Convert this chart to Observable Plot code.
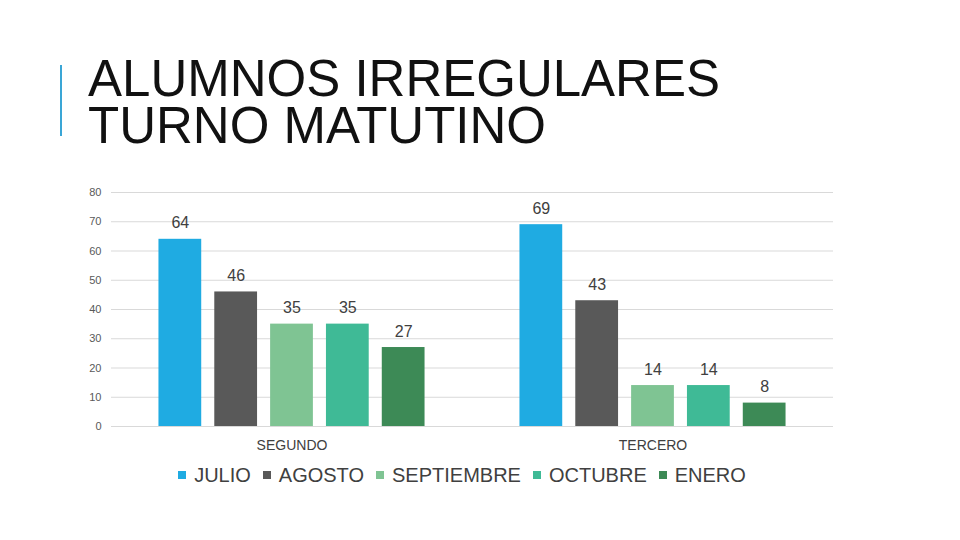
<!DOCTYPE html>
<html><head><meta charset="utf-8">
<script src="https://cdn.jsdelivr.net/npm/d3@7"></script>
<script src="https://cdn.jsdelivr.net/npm/@observablehq/plot@0.6"></script>
<style>
body{margin:0;width:960px;height:540px;background:#fff;position:relative;overflow:hidden;font-family:"Liberation Sans",Arial,sans-serif;}
#bar{position:absolute;left:60px;top:65px;width:2px;height:71px;background:#3aa6d6;}
.tl{position:absolute;left:88px;font-size:51px;line-height:47px;height:47px;overflow:visible;color:#111;white-space:nowrap;}
#chart{position:absolute;left:0;top:170px;}
#legend{position:absolute;left:-18px;top:463px;width:960px;display:flex;justify-content:center;font-size:20px;line-height:24px;color:#404040;}
#legend .it{display:flex;align-items:center;margin:0 6px;}
#legend .sw{width:8px;height:8px;margin-right:8px;}
</style></head>
<body>
<div id="bar"></div>
<div class="tl" style="top:55px">ALUMNOS IRREGULARES</div>
<div class="tl" style="top:102px">TURNO MATUTINO</div>
<div id="chart"></div>
<div id="legend"></div>
<script>
const groups = ["SEGUNDO", "TERCERO"];
const months = ["JULIO", "AGOSTO", "SEPTIEMBRE", "OCTUBRE", "ENERO"];
const segundo = [64, 46, 35, 35, 27];
const tercero = [69, 43, 14, 14, 8];
const colors = ["#1fabe2", "#595959", "#7fc493", "#3fba96", "#3d8a56"];
const yTicks = [0, 10, 20, 30, 40, 50, 60, 70, 80];

const rows = [];
[segundo, tercero].forEach((vals, gi) => vals.forEach((v, mi) => rows.push({group: groups[gi], month: months[mi], value: v})));

const plot = Plot.plot({
  width: 960, height: 290,
  marginLeft: 110, marginRight: 127, marginTop: 22, marginBottom: 34,
  style: {fontFamily: '"Liberation Sans", Arial, sans-serif', background: "transparent"},
  fx: {domain: groups, padding: 0, label: null},
  x: {domain: months, paddingInner: 0.234, paddingOuter: 0.85, round: false, axis: null},
  y: {domain: [0, 80], ticks: yTicks, label: null},
  color: {domain: months, range: colors},
  marks: [
    Plot.ruleY(yTicks, {stroke: "#d9d9d9", strokeWidth: 1}),
    Plot.axisY({ticks: yTicks, tickSize: 0, tickPadding: 10, fontSize: 11, color: "#595959", label: null}),
    Plot.axisFx({anchor: "bottom", tickSize: 0, tickPadding: 14, fontSize: 14, color: "#404040", label: null}),
    Plot.barY(rows, {fx: "group", x: "month", y: "value", fill: "month"}),
    Plot.text(rows, {fx: "group", x: "month", y: "value", text: d => String(d.value), dy: -16, fontSize: 16, fill: "#404040"})
  ]
});
document.getElementById("chart").appendChild(plot);

const lg = document.getElementById("legend");
months.forEach((m, i) => {
  const it = document.createElement("div"); it.className = "it";
  const sw = document.createElement("div"); sw.className = "sw"; sw.style.background = colors[i];
  const t = document.createElement("span"); t.textContent = m;
  it.appendChild(sw); it.appendChild(t); lg.appendChild(it);
});
</script>
</body></html>
